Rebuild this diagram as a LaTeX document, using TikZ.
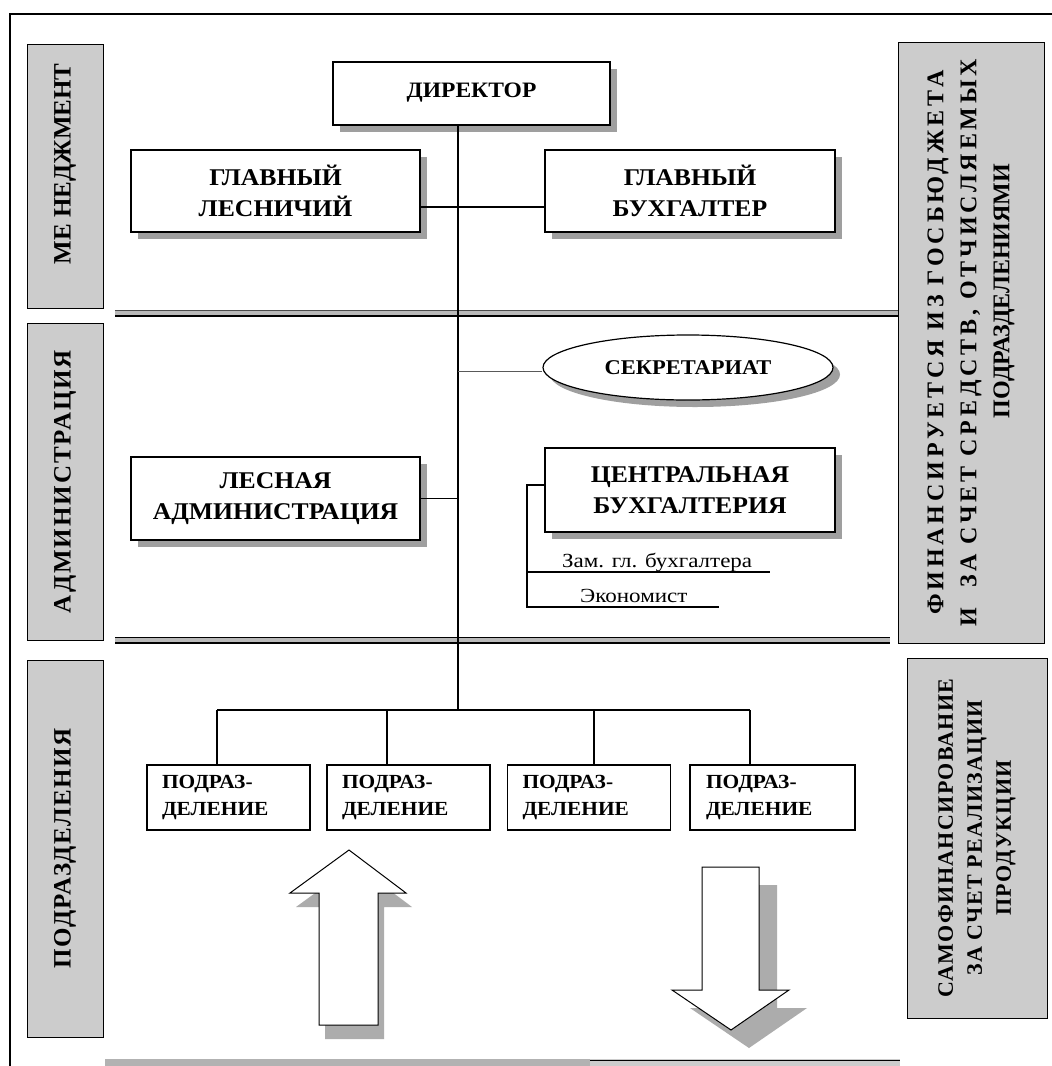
\documentclass[tikz,border=0pt]{standalone}
\usepackage{fontspec}
\setmainfont{Liberation Serif}
\newfontfamily\widefont[FakeStretch=1.07]{Liberation Serif}
\newfontfamily\smallfont[FakeStretch=1.15]{Liberation Serif}
\usetikzlibrary{shapes.geometric,shadows}
\begin{document}
\begin{tikzpicture}[x=1pt,y=-1pt,
  shad/.style={drop shadow={shadow xshift=7pt,shadow yshift=-7pt,fill=gray!75,opacity=1}},
  box/.style={draw,line width=1.2pt,fill=white,shad,inner sep=0pt,align=center,
    font=\widefont\bfseries\fontsize{24}{31}\selectfont},
  pbox/.style={draw,line width=1.2pt,fill=white,inner sep=0pt,align=left,
    minimum width=163pt,minimum height=65pt,text width=133pt,
    font=\widefont\bfseries\fontsize{20}{27}\selectfont},
  side/.style={draw,line width=1pt,fill=gray!40,rotate=90,inner sep=0pt,align=center},
  ln/.style={line width=1.1pt},
  small/.style={inner sep=0pt,font=\smallfont\fontsize{20}{22}\selectfont}]
\useasboundingbox (0,0) rectangle (1052,1066);
\fill[white] (0,0) rectangle (1052,1066);
% frame
\draw[line width=1.5pt] (10,1066) -- (10,14) -- (1052,14);
% separators
\fill[gray!55] (115,310) rectangle (899,316);
\draw[line width=0.7pt,gray!60!black] (115,310) -- (899,310);
\draw[line width=1.3pt] (115,316) -- (899,316);
\fill[gray!55] (115,637) rectangle (890,643);
\draw[line width=1pt] (115,637) -- (890,637);
\draw[line width=1.3pt] (115,643) -- (890,643);
\fill[gray!60] (105,1059) rectangle (590,1066);
\fill[gray!40] (590,1059) rectangle (900,1066);
\draw[line width=1pt] (590,1060) -- (900,1060);
% side labels
\node[side,minimum width=264pt,minimum height=76pt,font=\bfseries\fontsize{25}{30}\selectfont] (lm) at (65,176) {\hspace*{24pt}МЕ НЕДЖМЕНТ};
\node[side,minimum width=317pt,minimum height=76pt,font=\bfseries\fontsize{25}{30}\selectfont\addfontfeature{LetterSpace=8}] (la) at (65,481.5) {АДМИНИСТРАЦИЯ};
\node[side,minimum width=377pt,minimum height=76pt,font=\bfseries\fontsize{25}{30}\selectfont\addfontfeature{LetterSpace=6}] (lp) at (65,848.5) {ПОДРАЗДЕЛЕНИЯ};
\node[side,minimum width=601pt,minimum height=146pt,font=\bfseries\fontsize{24}{33}\selectfont] (rf) at (971,342.5) {{\addfontfeature{LetterSpace=16}ФИНАНСИРУЕТСЯ ИЗ ГОСБЮДЖЕТА}\\{\addfontfeature{LetterSpace=16}И~~ЗА СЧЕТ СРЕДСТВ, ОТЧИСЛЯЕМЫХ}\\\hspace*{103pt}ПОДРАЗДЕЛЕНИЯМИ};
\node[side,minimum width=360pt,minimum height=140pt,font=\bfseries\fontsize{22}{29}\selectfont\addfontfeature{LetterSpace=6}] (rs) at (977,838) {САМОФИНАНСИРОВАНИЕ\\ЗА СЧЕТ РЕАЛИЗАЦИИ\\ПРОДУКЦИИ};
% boxes
\node[box,minimum width=277pt,minimum height=63pt,font=\widefont\bfseries\fontsize{22}{24}\selectfont] (dir) at (471.5,93.5) {\raisebox{6pt}{ДИРЕКТОР}};
\node[box,minimum width=289pt,minimum height=82pt] (les) at (275.5,191) {ГЛАВНЫЙ\\ЛЕСНИЧИЙ};
\node[box,minimum width=290pt,minimum height=82pt] (buh) at (690,191) {ГЛАВНЫЙ\\БУХГАЛТЕР};
\node[box,ellipse,minimum width=290pt,minimum height=65pt,font=\widefont\bfseries\fontsize{21}{24}\selectfont] (sec) at (688,367.5) {СЕКРЕТАРИАТ};
\node[box,minimum width=289pt,minimum height=83pt] (lesadm) at (275.5,498.5) {ЛЕСНАЯ\\АДМИНИСТРАЦИЯ};
\node[box,minimum width=290pt,minimum height=84pt] (cbuh) at (690,490) {ЦЕНТРАЛЬНАЯ\\БУХГАЛТЕРИЯ};
\node[pbox] (p1) at (228.5,797.5) {ПОДРАЗ-\\ДЕЛЕНИЕ};
\node[pbox] (p2) at (408.5,797.5) {ПОДРАЗ-\\ДЕЛЕНИЕ};
\node[pbox] (p3) at (589,797.5) {ПОДРАЗ-\\ДЕЛЕНИЕ};
\node[pbox,minimum width=165pt] (p4) at (772.5,797.5) {ПОДРАЗ-\\ДЕЛЕНИЕ};
% trunk and links
\coordinate (tk) at (458,710);
\draw[ln] (dir.south -| tk) -- (tk);
\draw[ln] ([yshift=-16pt]les.east) -- ([yshift=-16pt]buh.west);
\draw[ln,gray!70!black] ([yshift=-4pt]sec.west -| tk) -- ([yshift=-4pt]sec.west);
\draw[ln] (lesadm.east) -- (lesadm.east -| tk);
\coordinate (d1) at (217,710);
\coordinate (d2) at (387,710);
\coordinate (d3) at (594,710);
\coordinate (d4) at (750,710);
\draw[ln] (d1) -- (d4);
\draw[ln] (d1) -- (d1 |- p1.north);
\draw[ln] (d2) -- (d2 |- p2.north);
\draw[ln] (d3) -- (d3 |- p3.north);
\draw[ln] (d4) -- (d4 |- p4.north);
% accounting bracket
\coordinate (bk) at (527,607);
\coordinate (zl) at (770,572);
\coordinate (el) at (719,607);
\draw[ln] ([yshift=5pt]cbuh.west) -| (bk) -- (el);
\draw[ln] (bk |- zl) -- (zl);
\node[small,anchor=base west] (zam) at (562,567) {Зам. гл. бухгалтера};
\node[small,anchor=base west] (eko) at (580,602) {Экономист};
% big arrows
\fill[gray!65] (355,864) -- (412,907) -- (384,907) -- (384,1039) -- (325,1039) -- (325,907) -- (296,907) -- cycle;
\draw[line width=1pt,fill=white] (349,850) -- (406,893) -- (378,893) -- (378,1025) -- (319,1025) -- (319,893) -- (290,893) -- cycle;
\fill[gray!65] (720,885) -- (777,885) -- (777,1008) -- (807,1008) -- (749,1048) -- (690,1008) -- (720,1008) -- cycle;
\draw[line width=1pt,fill=white] (702,867) -- (759,867) -- (759,990) -- (789,990) -- (731,1030) -- (672,990) -- (702,990) -- cycle;
\end{tikzpicture}
\end{document}
